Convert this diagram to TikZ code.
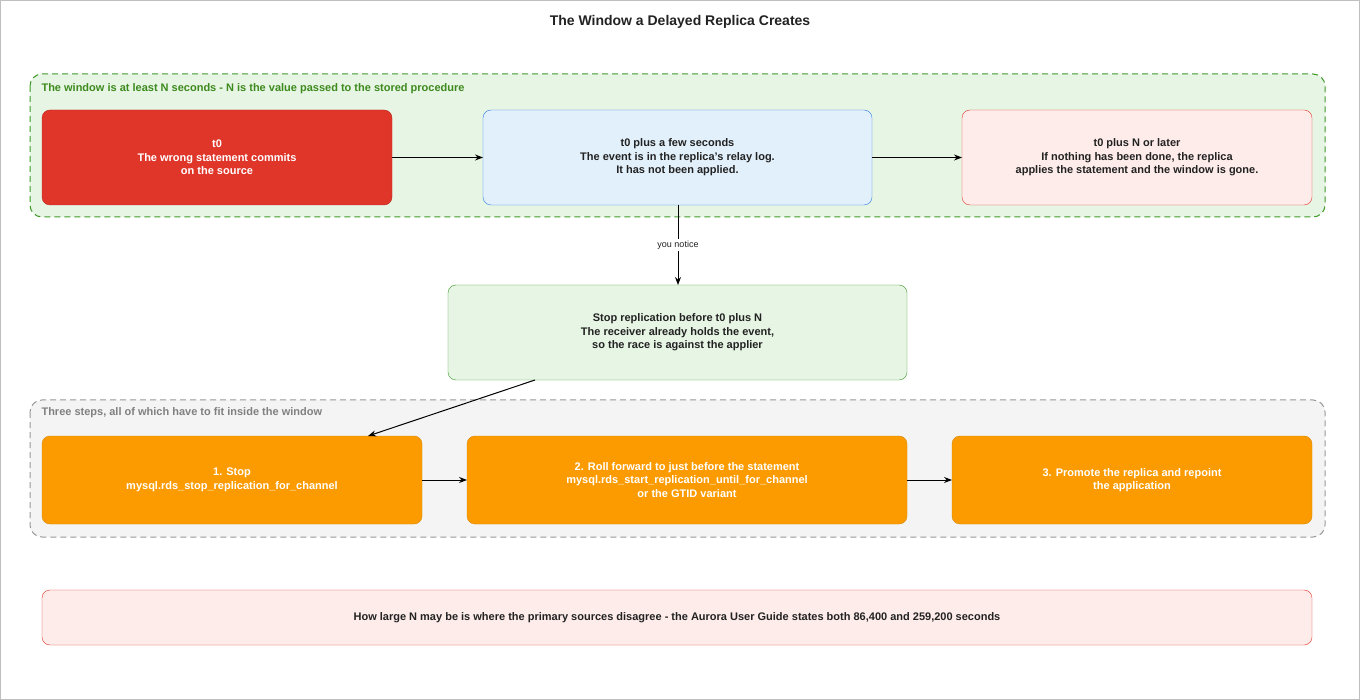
\documentclass[tikz,border=0pt]{standalone}
\usepackage{fontspec}
\setmainfont{Liberation Sans}
\usetikzlibrary{arrows.meta}
\definecolor{redf}{HTML}{E0362A}
\definecolor{redd}{HTML}{B8281E}
\definecolor{bluef}{HTML}{E2F0FB}
\definecolor{blued}{HTML}{2A7BE0}
\definecolor{pinkf}{HTML}{FDECEA}
\definecolor{greenf}{HTML}{E7F5E4}
\definecolor{greend}{HTML}{3F9A2A}
\definecolor{greent}{HTML}{3D8A1E}
\definecolor{orf}{HTML}{FB9B00}
\definecolor{ord}{HTML}{D98600}
\definecolor{txt}{HTML}{222222}
\tikzset{
 box/.style={rounded corners=8pt, align=center, font=\fontsize{11}{13.5}\selectfont\bfseries, text=txt},
 grp/.style={rounded corners=12pt, dashed, dash pattern=on 6pt off 4pt, line width=1pt},
 arr/.style={-{Stealth[length=8pt,width=6pt]}, line width=1pt, black},
 lbl/.style={anchor=west, font=\fontsize{11}{13}\selectfont\bfseries}
}
\begin{document}
\begin{tikzpicture}[x=1pt,y=-1pt]
\useasboundingbox (0,0) rectangle (1360,700);
\draw[gray!50, fill=white] (0.5,0.5) rectangle (1359.5,699.5);
\node[font=\fontsize{14}{16}\selectfont\bfseries, text=txt] (title) at (680,22) {The Window a Delayed Replica Creates};
% groups
\draw[grp, draw=greend, fill=greenf] (30,74) rectangle (1325,217);
\node[lbl, text=greent] (gl) at (38,89) {The window is at least N seconds - N is the value passed to the stored procedure};
\draw[grp, draw=gray!80, fill=gray!9] (30,400) rectangle (1325,537);
\node[lbl, text=gray] (sl) at (38,413) {Three steps, all of which have to fit inside the window};
% top row
\draw[box, fill=redf, draw=redd] (42,110) rectangle (392,205);
\node[box, text=white] (a) at (217,157.5) {t0\\The wrong statement commits\\on the source};
\draw[box, fill=bluef, draw=blued] (483,110) rectangle (872,205);
\node[box] (b) at (677.5,157.5) {t0 plus a few seconds\\The event is in the replica's relay log.\\It has not been applied.};
\draw[box, fill=pinkf, draw=redf] (962,110) rectangle (1312,205);
\node[box] (c) at (1137,157.5) {t0 plus N or later\\If nothing has been done, the replica\\applies the statement and the window is gone.};
\coordinate (ar) at (392,157.5); \coordinate (bl) at (483,157.5);
\coordinate (br) at (872,157.5); \coordinate (cl) at (962,157.5);
\draw[arr] (ar) -- (bl);
\draw[arr] (br) -- (cl);
% stop
\draw[box, fill=greenf, draw=greend] (448,285) rectangle (907,380);
\node[box] (d) at (677.5,332.5) {Stop replication before t0 plus N\\The receiver already holds the event,\\so the race is against the applier};
\coordinate (bb) at (678,205); \coordinate (dt) at (678,285);
\draw[arr] (bb) -- node[fill=white, font=\fontsize{9}{10}\selectfont, text=txt, inner sep=2pt] {you notice} (dt);
% steps
\draw[box, fill=orf, draw=ord] (42,436) rectangle (422,524);
\node[box, text=white] (e) at (232,480) {1. Stop\\mysql.rds\_stop\_replication\_for\_channel};
\draw[box, fill=orf, draw=ord] (467,436) rectangle (907,524);
\node[box, text=white] (f) at (687,480) {2. Roll forward to just before the statement\\mysql.rds\_start\_replication\_until\_for\_channel\\or the GTID variant};
\draw[box, fill=orf, draw=ord] (952,436) rectangle (1312,524);
\node[box, text=white] (g) at (1132,480) {3. Promote the replica and repoint\\the application};
\coordinate (db) at (535,380); \coordinate (et) at (368,436);
\draw[arr] (db) -- (et);
\coordinate (er) at (422,480); \coordinate (fl) at (467,480);
\coordinate (fr) at (907,480); \coordinate (gl2) at (952,480);
\draw[arr] (er) -- (fl);
\draw[arr] (fr) -- (gl2);
% bottom
\draw[box, fill=pinkf, draw=redf] (42,590) rectangle (1312,645);
\node[box] (h) at (677,617.5) {How large N may be is where the primary sources disagree - the Aurora User Guide states both 86,400 and 259,200 seconds};
\end{tikzpicture}
\end{document}
